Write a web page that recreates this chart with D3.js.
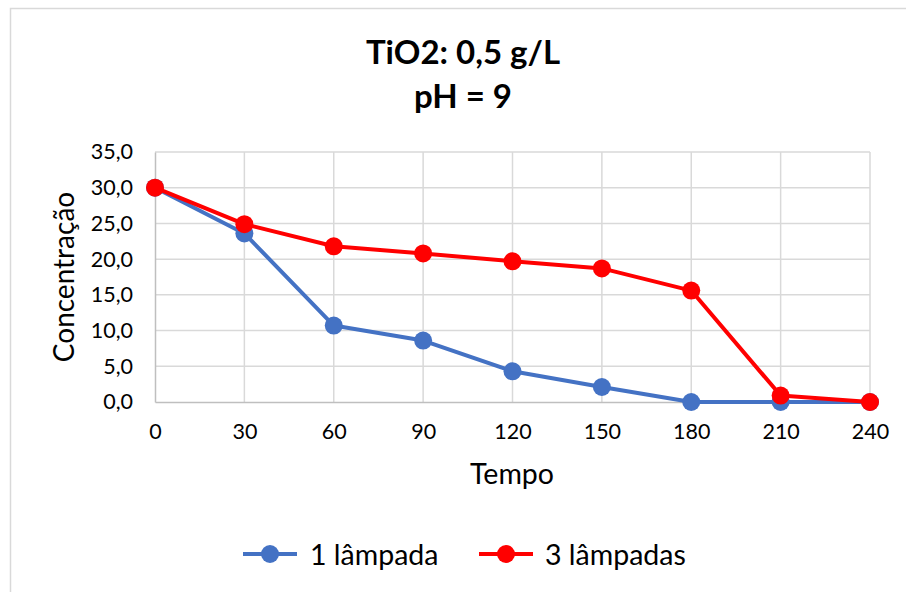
<!DOCTYPE html>
<html><head><meta charset="utf-8">
<script src="https://cdn.jsdelivr.net/npm/d3@7"></script>
<style>body{margin:0;background:#fff}svg{display:block}text{font-family:Lato,"Noto Sans",sans-serif;fill:#000}</style>
</head><body><svg id="c" width="906" height="592"></svg>
<script>
const tempo = [0, 30, 60, 90, 120, 150, 180, 210, 240];
const umaLampada = [30.0, 23.6, 10.7, 8.6, 4.3, 2.1, 0.0, 0.0, 0.0];
const tresLampadas = [30.0, 24.9, 21.8, 20.8, 19.7, 18.7, 15.6, 0.9, 0.0];
const yTicks = [0, 5, 10, 15, 20, 25, 30, 35];
const seriesNames = ["1 lâmpada", "3 lâmpadas"];
const colors = ["#4472C4", "#FF0000"];

const svg = d3.select("#c");
svg.append("rect").attr("x", 10.5).attr("y", 8.5).attr("width", 1000).attr("height", 1000)
  .attr("fill", "#fff").attr("stroke", "#d9d9d9").attr("stroke-width", 1.5);

const x = d3.scaleLinear().domain([0, 240]).range([155, 870]);
const y = d3.scaleLinear().domain([0, 35]).range([402, 152]);

// gridlines
svg.append("g").selectAll("line").data(yTicks.filter(d => d > 0)).join("line")
  .attr("x1", x(0)).attr("x2", x(240)).attr("y1", d => y(d)).attr("y2", d => y(d))
  .attr("stroke", "#d9d9d9").attr("stroke-width", 1.5);
svg.append("g").selectAll("line").data(tempo.filter(d => d > 0)).join("line")
  .attr("x1", d => x(d)).attr("x2", d => x(d)).attr("y1", y(0)).attr("y2", y(35))
  .attr("stroke", "#d9d9d9").attr("stroke-width", 1.5);

// axes
const yAxis = d3.axisLeft(y).tickValues(yTicks).tickSize(0).tickPadding(22)
  .tickFormat(d => d3.format(".1f")(d).replace(".", ","));
const gy = svg.append("g").attr("transform", `translate(${x(0)},0)`).call(yAxis);
gy.select(".domain").attr("stroke", "#bfbfbf").attr("stroke-width", 1.5);

const xAxis = d3.axisBottom(x).tickValues(tempo).tickSize(0).tickPadding(22);
const gx = svg.append("g").attr("transform", `translate(0,${y(0)})`).call(xAxis);
gx.select(".domain").attr("stroke", "#bfbfbf").attr("stroke-width", 1.5);
[gx, gy].forEach(g => g.attr("font-family", null).attr("font-size", null));
svg.selectAll(".tick text").attr("fill", "#000").style("font-size", "21.5px");

// series
const data = [umaLampada, tresLampadas];
const line = d3.line().x((d, i) => x(tempo[i])).y(d => y(d));
data.forEach((s, k) => {
  const g = svg.append("g");
  g.append("path").attr("d", line(s)).attr("fill", "none").attr("stroke", colors[k])
    .attr("stroke-width", 4).attr("stroke-linejoin", "round");
  g.selectAll("circle").data(s).join("circle")
    .attr("cx", (d, i) => x(tempo[i])).attr("cy", d => y(d)).attr("r", 9)
    .attr("fill", colors[k]);
});

// titles
svg.append("text").attr("x", 463).attr("y", 64).attr("text-anchor", "middle")
  .style("font-size", "33px").style("font-weight", "bold").text("TiO2: 0,5 g/L");
svg.append("text").attr("x", 463).attr("y", 108).attr("text-anchor", "middle")
  .style("font-size", "33px").style("font-weight", "bold").text("pH = 9");
svg.append("text").attr("x", 512).attr("y", 484).attr("text-anchor", "middle")
  .style("font-size", "28.5px").text("Tempo");
svg.append("text").attr("transform", "translate(74,277) rotate(-90)").attr("text-anchor", "middle")
  .style("font-size", "28px").text("Concentração");

// legend
const leg = [{x: 243, tx: 310}, {x: 479, tx: 545}];
leg.forEach((l, k) => {
  svg.append("line").attr("x1", l.x).attr("x2", l.x + 54).attr("y1", 554).attr("y2", 554)
    .attr("stroke", colors[k]).attr("stroke-width", 4);
  svg.append("circle").attr("cx", l.x + 27).attr("cy", 554).attr("r", 9).attr("fill", colors[k]);
  svg.append("text").attr("x", l.tx).attr("y", 565).style("font-size", "28.5px").text(seriesNames[k]);
});
</script></body></html>
